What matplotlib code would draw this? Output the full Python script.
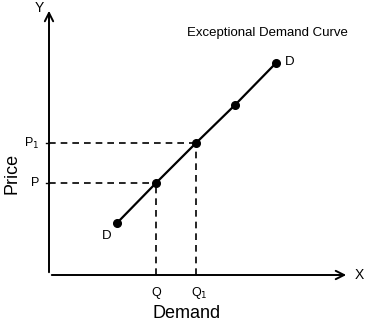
import matplotlib.pyplot as plt

plt.rcParams['font.family'] = ['Liberation Sans', 'DejaVu Sans']

# demand curve points (quantity, price), in chart units from the origin
curve_x = [68, 107, 147, 186, 227]
curve_y = [52, 92, 132, 170, 212]
# the two marked equilibrium points: (Q, P) and (Q1, P1)
mark_x = [107, 147]
mark_y = [92, 132]
qty_labels = ["Q", "Q$_1$"]
price_labels = ["P", "P$_1$"]

x_end, y_end = 300, 267

fig = plt.figure(figsize=(3.7, 3.26), dpi=100)
ax = fig.add_axes([0, 0, 1, 1])
ax.set_xlim(-49, 321)
ax.set_ylim(-51, 275)
ax.axis("off")

# axes with arrows
arrow = dict(arrowstyle="->", color="black", lw=1.4, mutation_scale=15)
ax.annotate("", xy=(x_end, 0), xytext=(0, 0), arrowprops=arrow)
ax.annotate("", xy=(0, y_end), xytext=(0, 0), arrowprops=arrow)
ax.text(x_end + 6, 0, "X", fontsize=10, va="center", ha="left")
ax.text(-5, y_end, "Y", fontsize=10, va="center", ha="right")

# the curve
ax.plot(curve_x, curve_y, color="black", lw=1.6, marker="o", markersize=5.5)

# dashed guides
for qx, py, ql, pl in zip(mark_x, mark_y, qty_labels, price_labels):
    ax.plot([0, qx], [py, py], color="black", lw=1.2, ls=(0, (4, 3)))
    ax.plot([qx, qx], [0, py], color="black", lw=1.2, ls=(0, (4, 3)))
    ax.plot([-3, 0], [py, py], color="black", lw=1)
    ax.text(qx + (3 if ql != "Q" else 0), -18, ql, fontsize=9, ha="center", va="center")
    ax.text(-10, py, pl, fontsize=9, ha="right", va="center")

ax.text(curve_x[0] - 10, curve_y[0] - 13, "D", fontsize=9.5, ha="center", va="center")
ax.text(curve_x[-1] + 14, curve_y[-1] + 1, "D", fontsize=9.5, ha="center", va="center")

ax.text(218, 242, "Exceptional Demand Curve", fontsize=9.5, ha="center", va="center")
ax.text(138, -38, "Demand", fontsize=13, ha="center", va="center")
ax.text(-37, 102, "Price", fontsize=13, ha="center", va="center", rotation=90)

fig.savefig("out.png", dpi=100)
